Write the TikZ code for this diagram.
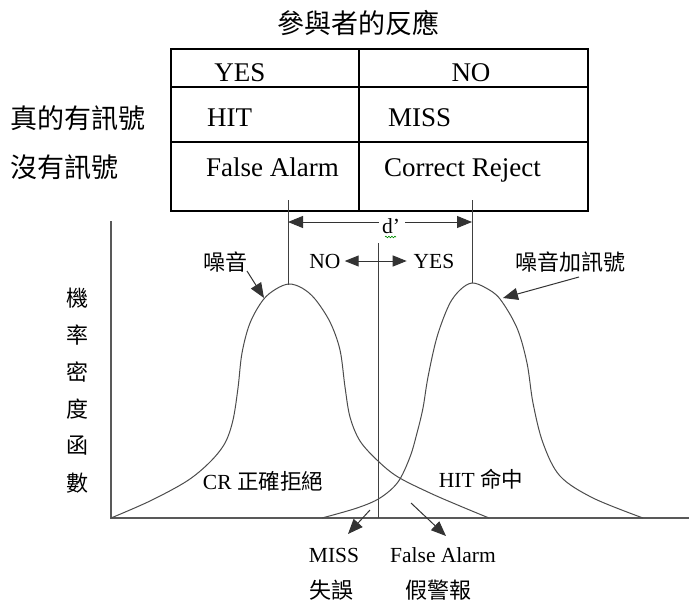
\documentclass[tikz,border=0pt]{standalone}
\usepackage{fontspec}
\setmainfont{Liberation Serif}
\newfontfamily\cjk{Noto Sans CJK TC}
\usetikzlibrary{arrows.meta,decorations.pathmorphing}
\begin{document}
\begin{tikzpicture}[x=1pt,y=-1pt,
  tbl/.style={line width=2pt,black},
  thinline/.style={line width=1pt,black!75},
  curve/.style={line width=1pt,black!70},
  axis/.style={line width=1.4pt,black!65},
  arr/.style={line width=1pt,black!80,-{Triangle[length=15pt,width=12pt]}},
  darr/.style={line width=1pt,black!80,{Triangle[length=14pt,width=11pt]}-{Triangle[length=14pt,width=11pt]}},
  bigtxt/.style={inner sep=0pt,font=\fontsize{27}{30}\selectfont},
  bigcjk/.style={inner sep=0pt,font=\fontsize{27}{30}\selectfont\cjk},
  smtxt/.style={inner sep=0pt,font=\fontsize{21.5}{24}\selectfont},
  smcjk/.style={inner sep=0pt,font=\fontsize{22}{24}\selectfont\cjk}]
\useasboundingbox (0,0) rectangle (689,602);

% title and table
\node[bigcjk] (title) at (358,23) {參與者的反應};
\draw[tbl] (171,49) rectangle (588,211);
\draw[tbl] (171,87) -- (588,87);
\draw[tbl] (171,142) -- (588,142);
\draw[tbl] (359,49) -- (359,211);
\node[bigtxt,anchor=base] (hyes) at (240,82) {YES};
\node[bigtxt,anchor=base] (hno) at (471,82) {NO};
\node[bigtxt,anchor=base west] (hit) at (207,127) {HIT};
\node[bigtxt,anchor=base west] (miss) at (388,127) {MISS};
\node[bigtxt,anchor=base west] (fa) at (206,176) {False Alarm};
\node[bigtxt,anchor=base west] (cr) at (384,176) {Correct Reject};
\node[bigcjk,anchor=west] (row1) at (10,118) {真的有訊號};
\node[bigcjk,anchor=west] (row2) at (10,167) {沒有訊號};

% d' lines
\coordinate (dl) at (288,200);
\coordinate (dr) at (472,200);
\coordinate (npk) at (288,285);
\coordinate (spk) at (472,283);
\draw[thinline] (dl) -- (npk);
\draw[thinline] (dr) -- (spk);
\node[smtxt] (dp) at (391,226) {d’};
\draw[green!55!black,line width=0.6pt,decorate,decoration={snake,amplitude=0.8pt,segment length=3pt}] (385,237) -- (396,237);
\coordinate (dal) at (288,222);
\coordinate (dar) at (472,222);
\draw[arr] (dp.west |- dal) ++(-3,0) -- (dal);
\draw[arr] (dp.east |- dar) ++(5,0) -- (dar);

% axes
\coordinate (ytop) at (111,221);
\coordinate (orig) at (111,518);
\coordinate (xend) at (689,518);
\draw[axis] (ytop) -- (orig) -- (xend);

% criterion
\coordinate (ctop) at (378,243);
\coordinate (cbot) at (378,518);
\draw[thinline] (ctop) -- (cbot);

% NO <-> YES
\node[smtxt,anchor=base] (no) at (325,268) {NO};
\node[smtxt,anchor=base] (yes) at (434,268) {YES};
\draw[darr] (no.east |- 0,261) ++(4,0) -- ++(62,0);

% noise curve
\draw[curve] plot[smooth,tension=0.55] coordinates {
 (111,518) (150,501) (187,481) (210,462) (225,443) (233,420) (238,388) (242,353)
 (250,323) (263,300) (276,289) (289,284) (302,288) (315,299) (330,322) (340,350)
 (345,387) (350,417) (360,441) (378,461) (398,477) (430,493) (460,506) (489,518)};

% signal curve
\draw[curve] plot[smooth,tension=0.55] coordinates {
 (322,518) (357,508) (380,498) (398,482) (410,457) (417,433) (423,408) (428,377)
 (437,337) (449,305) (460,290) (472,283) (486,288) (500,299) (517,328) (527,363)
 (533,403) (543,443) (560,476) (593,498) (643,518)};

% curve labels
\node[smcjk] (noise) at (225,262) {噪音};
\node[smcjk] (signal) at (570,262) {噪音加訊號};
\coordinate (noiseA) at (264,298);
\coordinate (signalA) at (503,298);
\draw[arr] (247,271) -- (noiseA);
\draw[arr] (579,277) -- (signalA);

\node[smtxt,anchor=base] (crl) at (263,489) {CR {\cjk 正確拒絕}};
\node[smtxt,anchor=base] (hitl) at (481,487) {HIT {\cjk 命中}};

% y label
\foreach \c [count=\i from 0] in {機,率,密,度,函,數}
  \node[smcjk] (yl\i) at (77,298+37*\i) {\c};

% bottom labels
\node[smtxt,anchor=base] (missl) at (334,562) {MISS};
\node[smcjk] (missc) at (331,590) {失誤};
\node[smtxt,anchor=base] (fal) at (443,562) {False Alarm};
\node[smcjk] (fac) at (438,590) {假警報};
\coordinate (missT) at (348,534);
\coordinate (faT) at (446,536);
\draw[arr] (370,510) -- (missT);
\draw[arr] (411,503) -- (faT);
\end{tikzpicture}
\end{document}
